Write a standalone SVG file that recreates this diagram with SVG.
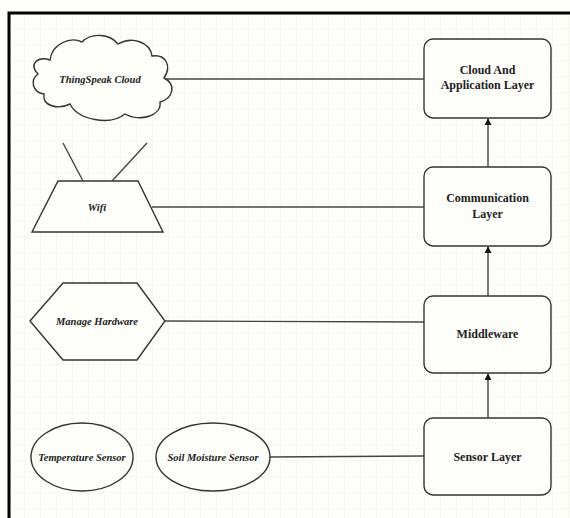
<svg xmlns="http://www.w3.org/2000/svg" width="570" height="518" viewBox="0 0 570 518">
<defs>
<pattern id="grid" x="9" y="13" width="16" height="16" patternUnits="userSpaceOnUse">
<path d="M16 0V16M0 16H16" fill="none" stroke="#f1f1ea" stroke-width="1"/>
</pattern>
<marker id="arr" viewBox="0 0 10 10" refX="9" refY="5" markerWidth="7" markerHeight="7" orient="auto" markerUnits="userSpaceOnUse">
<path d="M0 0L10 5L0 10Z" fill="#111"/>
</marker>
<style>
.shape{fill:#fdfdfa;stroke:#333;stroke-width:1.4}
.layer{font-family:"Liberation Serif","Times New Roman",serif;font-size:12px;font-weight:bold;fill:#222;text-anchor:middle}
.lbl{font-family:"Liberation Serif","Times New Roman",serif;font-size:10.5px;font-style:italic;font-weight:bold;fill:#222;text-anchor:middle}
.conn{stroke:#444;stroke-width:1.4;fill:none}
</style>
</defs>
<rect width="570" height="518" fill="#fdfdf9"/>
<rect x="9" y="13" width="561" height="505" fill="url(#grid)"/>
<path d="M9 518V13H570" fill="none" stroke="#000" stroke-width="3"/>

<g id="connectors">
<line class="conn" x1="165" y1="79" x2="424" y2="79"/>
<line class="conn" x1="152" y1="207" x2="424" y2="207"/>
<line class="conn" x1="165" y1="321" x2="424" y2="322"/>
<line class="conn" x1="269" y1="457" x2="424" y2="456"/>
<line class="conn" x1="488" y1="167" x2="488" y2="119" marker-end="url(#arr)"/>
<line class="conn" x1="488" y1="296" x2="488" y2="247" marker-end="url(#arr)"/>
<line class="conn" x1="488" y1="418" x2="488" y2="374" marker-end="url(#arr)"/>
</g>

<g id="cloud-layer">
<rect class="shape" x="424" y="39" width="127" height="79" rx="9"/>
<text class="layer" x="487.5" y="74">Cloud And</text>
<text class="layer" x="487.5" y="89">Application Layer</text>
</g>
<g id="communication-layer">
<rect class="shape" x="424" y="167" width="127" height="79" rx="9"/>
<text class="layer" x="487.5" y="202">Communication</text>
<text class="layer" x="487.5" y="218">Layer</text>
</g>
<g id="middleware">
<rect class="shape" x="424" y="296" width="127" height="77" rx="9"/>
<text class="layer" x="487.5" y="338">Middleware</text>
</g>
<g id="sensor-layer">
<rect class="shape" x="424" y="418" width="127" height="77" rx="9"/>
<text class="layer" x="487.5" y="461">Sensor Layer</text>
</g>

<g id="thingspeak-cloud">
<path class="shape" d="M50 60C38 56 28 64 38 74C30 80 32 92 44 94C42 106 58 110 70 104C78 120 110 126 125 114C140 122 162 116 160 102C174 98 176 84 164 78C172 66 166 54 152 56C150 42 132 36 118 44C110 34 92 32 82 42C70 36 52 44 50 60Z"/>
<text class="lbl" x="100" y="83">ThingSpeak Cloud</text>
</g>

<g id="wifi">
<line class="conn" x1="63" y1="143" x2="83" y2="181"/>
<line class="conn" x1="147" y1="143" x2="112" y2="181"/>
<path class="shape" d="M58 181H138L163 232H32Z"/>
<text class="lbl" x="97" y="211">Wifi</text>
</g>

<g id="manage-hardware">
<path class="shape" d="M30 321L63 283H137L165 321L137 360H63Z"/>
<text class="lbl" x="97" y="325">Manage Hardware</text>
</g>

<g id="temperature-sensor">
<ellipse class="shape" cx="82" cy="457" rx="51" ry="34"/>
<text class="lbl" x="82" y="461">Temperature Sensor</text>
</g>
<g id="soil-moisture-sensor">
<ellipse class="shape" cx="213" cy="457" rx="57" ry="34"/>
<text class="lbl" x="213" y="461">Soil Moisture Sensor</text>
</g>
</svg>
